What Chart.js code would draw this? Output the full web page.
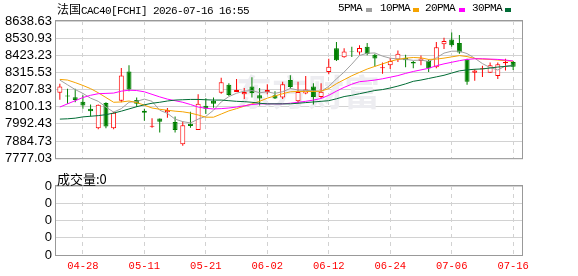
<!DOCTYPE html>
<html>
<head>
<meta charset="utf-8">
<script src="https://cdn.jsdelivr.net/npm/chart.js@4.4.1/dist/chart.umd.min.js"></script>
<style>
    html, body { margin: 0; padding: 0; background: #fff; }
    #wrap { position: relative; width: 578px; height: 276px; overflow: hidden; }
    canvas { position: absolute; left: 0; }
    #main { top: 0; }
    #vol { top: 170px; }
    .txt { position: absolute; white-space: nowrap; color: #000; }
    .mono { font: 11px "Liberation Mono", monospace; letter-spacing: -0.6px; }
    .cjk { font: 12px "Noto Sans CJK SC", sans-serif; }
    .sw { position: absolute; width: 6px; height: 4px; top: 8px; }
</style>
</head>
<body>
<div id="wrap">
    <canvas id="main" width="578" height="170"></canvas>
    <canvas id="vol" width="578" height="106"></canvas>

    <div class="txt" style="left:57px;top:0px;line-height:16px;">
        <span class="cjk">法国</span><span class="mono">CAC40[FCHI] 2026-07-16 16:55</span>
    </div>

    <div class="txt mono" style="left:338px;top:1px;line-height:14px;">5PMA</div>
    <div class="sw" style="left:366px;background:#a0a0a0;"></div>
    <div class="txt mono" style="left:380px;top:1px;line-height:14px;">10PMA</div>
    <div class="sw" style="left:413px;background:#f5a300;"></div>
    <div class="txt mono" style="left:425px;top:1px;line-height:14px;">20PMA</div>
    <div class="sw" style="left:459px;background:#ff00ff;"></div>
    <div class="txt mono" style="left:472px;top:1px;line-height:14px;">30PMA</div>
    <div class="sw" style="left:505px;background:#006c35;"></div>

    <div class="txt" style="left:57px;top:169px;line-height:16px;font:13px 'Noto Sans CJK SC', sans-serif;">成交量:0</div>
</div>

<script>
// trading days shown (2026)
const dates = [
    "04-23", "04-24", "04-27", "04-28", "04-29", "04-30", "05-04", "05-05", "05-06", "05-07",
    "05-08", "05-11", "05-12", "05-13", "05-14", "05-15", "05-18", "05-19", "05-20", "05-21",
    "05-22", "05-25", "05-26", "05-27", "05-28", "05-29", "06-01", "06-02", "06-03", "06-04",
    "06-05", "06-08", "06-09", "06-10", "06-11", "06-12", "06-15", "06-16", "06-17", "06-18",
    "06-19", "06-22", "06-23", "06-24", "06-25", "06-26", "06-29", "06-30", "07-01", "07-02",
    "07-03", "07-06", "07-07", "07-08", "07-09", "07-10", "07-13", "07-14", "07-15", "07-16",
];
const dateTickLabels = ["04-28", "05-11", "05-21", "06-02", "06-12", "06-24", "07-06", "07-16"];

const open = [
    8188.0, 8170.0, 8160.1, 8132.2, 8088.3, 7964.6, 8124.1, 7964.6, 8138.1, 8321.6,
    8142.1, 8074.3, 7974.6, 8026.5, 8066.3, 8004.6, 7865.0, 7992.6, 7954.6, 8106.2,
    8138.1, 8188.0, 8237.9, 8192.0, 8178.0, 8227.9, 8172.0, 8192.0, 8172.0, 8158.1,
    8267.7, 8134.2, 8184.0, 8227.9, 8162.1, 8317.6, 8467.1, 8411.3, 8449.2, 8441.2,
    8477.1, 8427.3, 8341.5, 8361.5, 8397.4, 8407.3, 8381.4, 8387.4, 8387.4, 8347.5,
    8493.1, 8523.0, 8501.1, 8397.4, 8313.6, 8335.5, 8313.6, 8293.6, 8373.4, 8381.4,
];
const high = [
    8243.8, 8213.9, 8213.9, 8172.0, 8114.2, 8114.2, 8128.2, 8068.3, 8343.5, 8361.5,
    8158.1, 8088.3, 8028.5, 8026.5, 8092.3, 8038.4, 8008.5, 8068.3, 8178.0, 8154.1,
    8158.1, 8281.7, 8247.8, 8273.7, 8217.9, 8285.7, 8217.9, 8241.8, 8197.9, 8257.8,
    8297.6, 8257.8, 8293.7, 8247.8, 8247.8, 8401.3, 8507.0, 8467.1, 8477.1, 8487.1,
    8501.0, 8433.3, 8377.4, 8407.3, 8453.2, 8427.3, 8387.4, 8421.3, 8397.4, 8507.0,
    8533.0, 8566.9, 8550.9, 8401.4, 8337.5, 8357.5, 8377.4, 8377.4, 8401.3, 8387.4,
];
const low = [
    8144.1, 8118.2, 8128.2, 8088.3, 8038.4, 7958.6, 7964.6, 7958.6, 8128.2, 8197.9,
    8098.2, 8012.5, 7968.6, 7938.6, 8030.5, 7938.6, 7855.0, 7968.6, 7954.6, 8054.4,
    8094.2, 8182.0, 8168.0, 8192.0, 8148.1, 8158.1, 8108.2, 8178.0, 8148.1, 8148.1,
    8213.9, 8122.2, 8178.0, 8114.2, 8154.1, 8303.6, 8387.4, 8407.3, 8413.3, 8427.3,
    8423.3, 8353.5, 8307.6, 8337.5, 8381.4, 8347.5, 8341.5, 8361.5, 8317.6, 8341.5,
    8463.2, 8476.9, 8433.3, 8237.8, 8263.7, 8287.7, 8313.6, 8273.7, 8327.6, 8331.6,
];
const close = [
    8227.9, 8164.0, 8142.1, 8108.2, 8072.3, 8112.2, 7976.5, 8062.3, 8295.6, 8207.9,
    8118.2, 8062.3, 7980.6, 8006.5, 8080.3, 7954.7, 7984.6, 7978.6, 8118.2, 8088.3,
    8118.2, 8253.8, 8174.0, 8205.9, 8192.0, 8186.0, 8152.1, 8205.9, 8152.1, 8241.8,
    8223.9, 8192.0, 8207.9, 8162.1, 8194.0, 8351.5, 8391.4, 8447.2, 8445.2, 8469.2,
    8431.3, 8403.4, 8347.5, 8387.4, 8433.3, 8391.4, 8371.4, 8403.4, 8341.5, 8473.1,
    8513.0, 8487.1, 8441.2, 8257.8, 8327.6, 8341.5, 8361.5, 8367.4, 8381.4, 8351.5,
];

// moving averages
const ma5 = [
    8267.8, 8237.9, 8207.9, 8184.0, 8154.1, 8134.2, 8098.3, 8066.4, 8088.3, 8128.2,
    8134.2, 8148.1, 8134.2, 8078.3, 8058.4, 8022.5, 8006.6, 7998.6, 8022.5, 8040.0,
    8078.0, 8130.0, 8164.0, 8185.0, 8198.0, 8202.0, 8188.0, 8194.0, 8184.0, 8195.0,
    8215.0, 8205.0, 8203.0, 8200.0, 8197.0, 8228.0, 8275.0, 8318.0, 8368.0, 8422.0,
    8436.0, 8438.0, 8418.0, 8405.0, 8400.0, 8398.0, 8391.4, 8393.0, 8385.0, 8407.0,
    8437.0, 8449.0, 8449.0, 8434.0, 8405.0, 8371.0, 8346.0, 8331.0, 8356.0, 8361.0,
];
const ma10 = [
    8271.8, 8267.8, 8251.8, 8233.9, 8213.9, 8188.0, 8158.1, 8128.2, 8130.2, 8136.2,
    8126.2, 8110.2, 8092.3, 8084.3, 8078.3, 8072.4, 8068.4, 8060.4, 8048.4, 8034.5,
    8034.5, 8054.4, 8074.3, 8088.3, 8104.3, 8118.2, 8134.2, 8154.1, 8168.1, 8182.0,
    8194.0, 8196.0, 8196.0, 8196.0, 8198.0, 8214.0, 8245.0, 8270.0, 8295.0, 8316.0,
    8337.0, 8353.5, 8369.5, 8385.4, 8397.4, 8405.4, 8409.3, 8407.3, 8397.4, 8399.4,
    8405.4, 8413.3, 8421.3, 8415.3, 8403.4, 8399.4, 8397.4, 8393.4, 8389.4, 8385.4,
];
const ma20 = [
    8098.3, 8118.2, 8138.2, 8158.1, 8172.1, 8182.0, 8184.0, 8186.0, 8198.0, 8204.0,
    8202.0, 8194.0, 8178.0, 8162.1, 8148.1, 8138.2, 8128.2, 8114.2, 8098.3, 8090.3,
    8086.3, 8088.3, 8092.3, 8098.3, 8106.3, 8114.2, 8118.2, 8118.2, 8118.2, 8118.2,
    8122.2, 8128.2, 8134.2, 8142.1, 8152.1, 8172.1, 8198.0, 8221.9, 8241.8, 8257.8,
    8261.8, 8267.8, 8275.7, 8285.7, 8295.7, 8309.6, 8321.6, 8331.6, 8341.5, 8357.5,
    8369.5, 8379.4, 8389.4, 8397.4, 8401.4, 8401.4, 8399.4, 8397.4, 8393.4, 8387.4,
];
const ma30 = [
    8022.5, 8024.5, 8028.5, 8036.5, 8040.5, 8044.4, 8050.4, 8060.4, 8072.4, 8086.3,
    8100.3, 8112.2, 8122.2, 8128.2, 8136.2, 8142.1, 8144.1, 8146.1, 8146.1, 8144.1,
    8142.1, 8142.1, 8138.2, 8134.2, 8132.2, 8128.2, 8122.2, 8118.2, 8118.2, 8118.2,
    8118.2, 8122.2, 8126.2, 8130.2, 8134.2, 8138.2, 8150.1, 8164.1, 8172.1, 8182.0,
    8192.0, 8202.0, 8208.0, 8217.9, 8229.9, 8243.8, 8259.8, 8267.8, 8277.7, 8287.7,
    8297.7, 8311.6, 8325.6, 8331.6, 8335.6, 8337.6, 8343.5, 8349.5, 8353.5, 8357.5,
];

const volume = new Array(60).fill(0);

const yTickValues = [8638.63, 8530.93, 8423.23, 8315.53, 8207.83, 8100.13, 7992.43, 7884.73, 7777.03];
const volTickValues = [0, 1, 2, 3, 4];
const volTickLabels = ["0", "0", "0", "0", "0"];

const UP = "#ff0000";
const DOWN = "#008000";
const GRID = "#d2d2d2";

const tickIdx = dateTickLabels.map(d => dates.indexOf(d));
const isUp = close.map((c, i) => c >= open[i]);

const frame = {
    id: "frame",
    afterDraw(chart) {
        const { ctx, chartArea: a } = chart;
        ctx.save();
        ctx.strokeStyle = "#999";
        ctx.lineWidth = 1;
        ctx.strokeRect(a.left - 0.5, a.top - 0.5, a.right - a.left + 1, a.bottom - a.top + 1);
        ctx.restore();
    },
};

const watermark = {
    id: "watermark",
    beforeDatasetsDraw(chart) {
        const ctx = chart.ctx;
        ctx.save();
        ctx.fillStyle = "#ededf1";
        ctx.font = "bold 36px 'Noto Sans CJK SC'";
        ctx.textBaseline = "middle";
        ctx.fillText("东方财富", 236, 92);
        ctx.restore();
    },
};

function xScale(showLabels) {
    return {
        type: "linear",
        min: -0.5,
        max: 60.15,
        offset: false,
        afterBuildTicks: axis => { axis.ticks = tickIdx.map(v => ({ value: v })); },
        afterFit: axis => { axis.height = showLabels ? 21 : 0; },
        grid: { color: GRID, offset: false, drawTicks: false },
        border: { display: false, dash: [4, 4] },
        ticks: {
            display: showLabels,
            autoSkip: false,
            maxRotation: 0,
            padding: 5,
            color: "#ff0000",
            font: { family: "Liberation Mono", size: 10.5 },
            callback: (v, i) => dateTickLabels[i],
        },
    };
}

function yTicks(labelFn) {
    return {
        autoSkip: false,
        padding: 4,
        color: "#000",
        font: { family: "Liberation Sans", size: 13 },
        callback: labelFn,
    };
}

new Chart(document.getElementById("main"), {
    type: "bar",
    data: {
        datasets: [
            {
                label: "wick",
                data: dates.map((d, i) => ({ x: i, y: [low[i], high[i]] })),
                backgroundColor: isUp.map(u => (u ? UP : DOWN)),
                borderWidth: 0,
                barThickness: 1,
                grouped: false,
                inflateAmount: 0,
                order: 3,
            },
            {
                label: "body",
                data: dates.map((d, i) => ({ x: i, y: [open[i], close[i]] })),
                backgroundColor: isUp.map(u => (u ? "#ffffff" : DOWN)),
                borderColor: isUp.map(u => (u ? UP : DOWN)),
                borderWidth: 1,
                borderSkipped: false,
                barThickness: 5,
                grouped: false,
                inflateAmount: 0,
                order: 2,
            },
            { type: "line", label: "30PMA", data: ma30.map((v, i) => ({ x: i, y: v })), borderColor: "#006c35", order: 1 },
            { type: "line", label: "20PMA", data: ma20.map((v, i) => ({ x: i, y: v })), borderColor: "#ff00ff", order: 1 },
            { type: "line", label: "10PMA", data: ma10.map((v, i) => ({ x: i, y: v })), borderColor: "#f5a300", order: 1 },
            { type: "line", label: "5PMA", data: ma5.map((v, i) => ({ x: i, y: v })), borderColor: "#a0a0a0", order: 1 },
        ],
    },
    options: {
        responsive: false,
        animation: false,
        layout: { padding: { top: 21, right: 56, bottom: 5, left: 0 } },
        elements: {
            line: { borderWidth: 1, tension: 0, fill: false },
            point: { radius: 0, hoverRadius: 0 },
        },
        plugins: { legend: { display: false }, tooltip: { enabled: false } },
        scales: {
            x: xScale(false),
            y: {
                min: 7777.03,
                max: 8638.63,
                afterBuildTicks: axis => { axis.ticks = yTickValues.map(v => ({ value: v })); },
                afterFit: axis => { axis.width = 56; },
                grid: { color: GRID, drawTicks: false },
                border: { display: false },
                ticks: yTicks(v => v.toFixed(2)),
            },
        },
    },
    plugins: [watermark, frame],
});

new Chart(document.getElementById("vol"), {
    type: "bar",
    data: {
        datasets: [{
            label: "成交量",
            data: volume.map((v, i) => ({ x: i, y: v })),
            backgroundColor: DOWN,
            borderWidth: 0,
            inflateAmount: 0,
            barThickness: 5,
        }],
    },
    options: {
        responsive: false,
        animation: false,
        layout: { padding: { top: 16, right: 56, bottom: 0, left: 0 } },
        plugins: { legend: { display: false }, tooltip: { enabled: false } },
        scales: {
            x: xScale(true),
            y: {
                min: 0,
                max: 4,
                afterBuildTicks: axis => { axis.ticks = volTickValues.map(v => ({ value: v })); },
                afterFit: axis => { axis.width = 56; },
                grid: { color: GRID, drawTicks: false },
                border: { display: false },
                ticks: yTicks((v, i) => volTickLabels[i]),
            },
        },
    },
    plugins: [frame],
});
</script>
</body>
</html>
